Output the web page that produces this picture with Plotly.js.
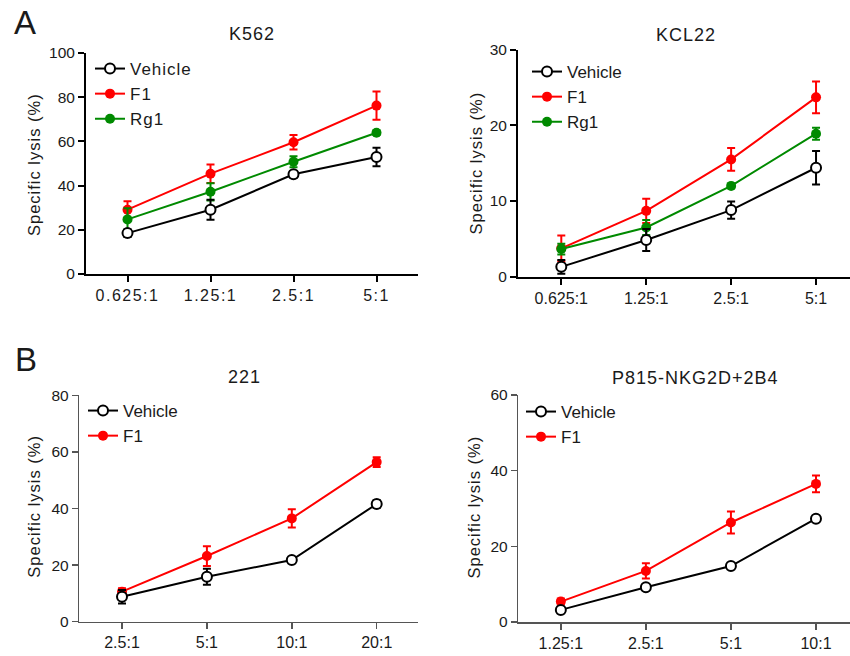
<!DOCTYPE html>
<html>
<head>
<meta charset="utf-8">
<script src="https://cdn.plot.ly/plotly-3.0.1.min.js"></script>
<style>
  html, body { margin: 0; padding: 0; background: #fff; }
  #chart { width: 850px; height: 656px; }
  .xtick text { letter-spacing: 1.5px; }
  .legendtext { letter-spacing: 1px; }
  .annotation-text { letter-spacing: 1px; }
</style>
</head>
<body>
<div id="chart"></div>
<script>
// ---------------- data ----------------
const ratiosA = ['0.625:1', '1.25:1', '2.5:1', '5:1'];
const ratios221 = ['2.5:1', '5:1', '10:1', '20:1'];
const ratiosP815 = ['1.25:1', '2.5:1', '5:1', '10:1'];

const k562Vehicle = [18.5, 29.1, 45.1, 52.9];
const k562VehicleErr = [1.8, 4.5, 1.5, 4.2];
const k562F1 = [29.1, 45.4, 59.6, 76.2];
const k562F1Err = [3.8, 4.2, 3.3, 6.4];
const k562Rg1 = [24.7, 37.2, 50.8, 63.9];
const k562Rg1Err = [5.0, 3.9, 2.5, 1.0];

const kcl22Vehicle = [1.3, 4.85, 8.8, 14.4];
const kcl22VehicleErr = [0.9, 1.45, 1.15, 2.2];
const kcl22F1 = [3.75, 8.7, 15.5, 23.7];
const kcl22F1Err = [1.7, 1.6, 1.5, 2.1];
const kcl22Rg1 = [3.65, 6.5, 12.0, 18.9];
const kcl22Rg1Err = [0.7, 1.0, 0.3, 0.8];

const c221Vehicle = [8.8, 15.9, 21.8, 41.6];
const c221VehicleErr = [2.4, 2.8, 0.8, 1.3];
const c221F1 = [10.6, 23.2, 36.5, 56.4];
const c221F1Err = [1.2, 3.5, 3.2, 1.7];

const p815Vehicle = [3.2, 9.2, 14.8, 27.3];
const p815VehicleErr = [0.5, 0.6, 0.5, 0.6];
const p815F1 = [5.4, 13.5, 26.3, 36.5];
const p815F1Err = [0.8, 2.0, 2.9, 2.2];

// ---------------- helpers ----------------
const W = 850, H = 656;
const px = v => v / W;
const py = v => 1 - v / H;
const RED = 'rgb(255,0,0)';
const GREEN = 'rgb(0,138,0)';
const BLACK = 'rgb(0,0,0)';
const FONT = 'Liberation Sans, Arial, sans-serif';

function series(name, x, y, err, color, open, xa, ya, leg, rank) {
  return {
    type: 'scatter', mode: 'lines+markers', name: name,
    x: x, y: y, xaxis: xa, yaxis: ya, legend: leg, legendrank: rank,
    line: { color: color, width: 2 },
    marker: open
      ? { symbol: 'circle', size: 10, color: 'white', line: { color: color, width: 2 } }
      : { symbol: 'circle', size: 10, color: color, line: { width: 0 } },
    error_y: { type: 'data', array: err, visible: true, color: color, thickness: 2, width: 4 },
    cliponaxis: false
  };
}

const traces = [
  series('F1', ratiosA, k562F1, k562F1Err, RED, false, 'x', 'y', 'legend', 2),
  series('Rg1', ratiosA, k562Rg1, k562Rg1Err, GREEN, false, 'x', 'y', 'legend', 3),
  series('Vehicle', ratiosA, k562Vehicle, k562VehicleErr, BLACK, true, 'x', 'y', 'legend', 1),

  series('F1', ratiosA, kcl22F1, kcl22F1Err, RED, false, 'x2', 'y2', 'legend2', 2),
  series('Rg1', ratiosA, kcl22Rg1, kcl22Rg1Err, GREEN, false, 'x2', 'y2', 'legend2', 3),
  series('Vehicle', ratiosA, kcl22Vehicle, kcl22VehicleErr, BLACK, true, 'x2', 'y2', 'legend2', 1),

  series('F1', ratios221, c221F1, c221F1Err, RED, false, 'x3', 'y3', 'legend3', 2),
  series('Vehicle', ratios221, c221Vehicle, c221VehicleErr, BLACK, true, 'x3', 'y3', 'legend3', 1),

  series('F1', ratiosP815, p815F1, p815F1Err, RED, false, 'x4', 'y4', 'legend4', 2),
  series('Vehicle', ratiosP815, p815Vehicle, p815VehicleErr, BLACK, true, 'x4', 'y4', 'legend4', 1)
];

function xaxis(domain, range, anchor, col, lw) {
  return {
    domain: domain, range: range, anchor: anchor, type: 'category',
    showline: true, linecolor: col, linewidth: lw, mirror: false,
    ticks: 'outside', ticklen: 6, tickwidth: lw, tickcolor: col,
    showgrid: false, zeroline: false, fixedrange: true,
    tickfont: { family: FONT, size: 16, color: '#1a1a1a' }
  };
}
function yaxis(domain, range, dtick, anchor, col, lw) {
  return {
    domain: domain, range: range, dtick: dtick, tick0: 0, anchor: anchor,
    showline: true, linecolor: col, linewidth: lw, mirror: false,
    ticks: 'outside', ticklen: 6, tickwidth: lw, tickcolor: col,
    showgrid: false, zeroline: false, fixedrange: true,
    tickfont: { family: FONT, size: 15.5, color: '#1a1a1a' }
  };
}

function legendAt(x, y) {
  return {
    x: px(x), y: py(y), xanchor: 'left', yanchor: 'top',
    bgcolor: 'rgba(0,0,0,0)', borderwidth: 0,
    font: { family: FONT, size: 17, color: '#1a1a1a' },
    traceorder: 'normal', itemclick: false, itemdoubleclick: false
  };
}

function ann(text, x, y, size, angle) {
  return {
    text: text, x: px(x), y: py(y), xref: 'paper', yref: 'paper',
    xanchor: 'center', yanchor: 'middle', showarrow: false,
    textangle: angle || 0,
    font: { family: FONT, size: size, color: '#1a1a1a' }
  };
}

const layout = {
  width: W, height: H,
  margin: { l: 0, r: 0, t: 0, b: 0 },
  paper_bgcolor: 'white', plot_bgcolor: 'white',
  showlegend: true,
  xaxis: xaxis([px(86), px(418)], [-0.5, 3.5], 'y', BLACK, 2),
  yaxis: yaxis([py(274), py(53)], [0, 100], 20, 'x', BLACK, 2),
  xaxis2: xaxis([px(518), 1], [-0.51, 3.40], 'y2', BLACK, 2),
  yaxis2: yaxis([py(276.7), py(49.7)], [0, 30], 10, 'x2', BLACK, 2),
  xaxis3: xaxis([px(79.3), px(418.3)], [-0.503, 3.49], 'y3', '#555', 1.5),
  yaxis3: yaxis([py(621.7), py(395.3)], [0, 80], 20, 'x3', '#555', 1.5),
  xaxis4: xaxis([px(518.3), 1], [-0.5, 3.40], 'y4', '#555', 1.5),
  yaxis4: yaxis([py(622), py(395)], [0, 60], 20, 'x4', '#555', 1.5),
  legend: legendAt(90, 51),
  legend2: legendAt(527, 54),
  legend3: legendAt(83, 393),
  legend4: legendAt(521, 394),
  annotations: [
    ann('A', 25, 23, 33),
    ann('B', 26, 359, 33),
    ann('K562', 252, 34, 18),
    ann('KCL22', 686, 35, 18),
    ann('221', 245, 377, 18),
    ann('P815-NKG2D+2B4', 695, 377.5, 18),
    ann('Specific lysis (%)', 34, 165, 16.5, -90),
    ann('Specific lysis (%)', 475, 163.5, 16.5, -90),
    ann('Specific lysis (%)', 34, 506.7, 16.5, -90),
    ann('Specific lysis (%)', 473, 507.5, 16.5, -90)
  ]
};

Plotly.newPlot('chart', traces, layout, { displayModeBar: false, staticPlot: true });
</script>
</body>
</html>
